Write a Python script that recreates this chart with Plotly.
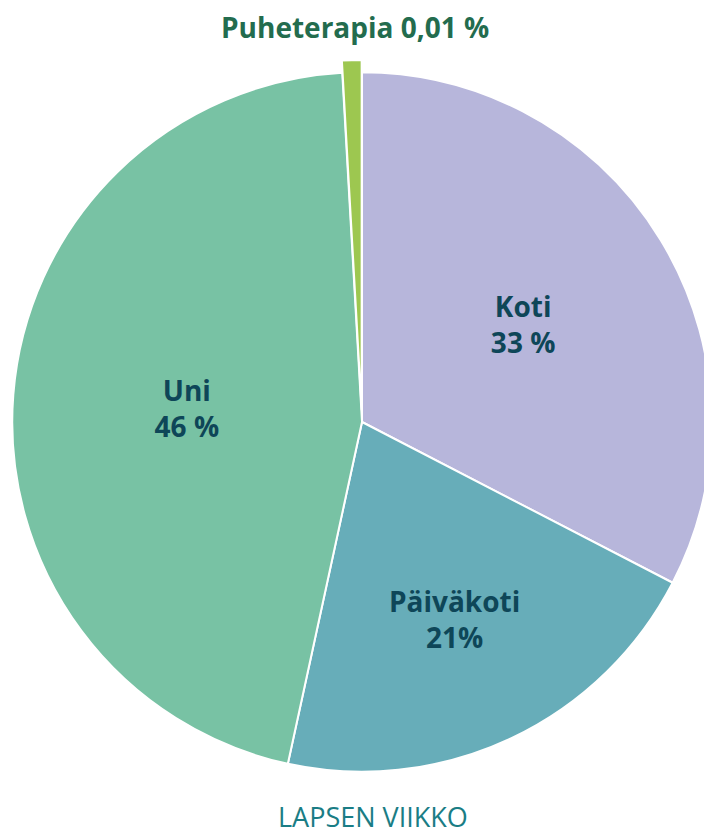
import plotly.graph_objects as go

categories = ["Koti", "Päiväkoti", "Uni", "Puheterapia"]
values = [32.6, 20.8, 45.7, 0.9]
label_texts = ["Koti<br>33 %", "Päiväkoti<br>21%", "Uni<br>46 %", "Puheterapia 0,01 %"]
colors = ["#b7b6db", "#67adb9", "#78c2a4", "#9dc750"]
title_text = "LAPSEN VIIKKO"

W, H = 724, 837

fig = go.Figure(go.Pie(
    labels=categories,
    values=values,
    text=label_texts[:3] + [""],
    textinfo="text",
    sort=False,
    direction="clockwise",
    rotation=0,
    pull=[0, 0, 0, 0.035],
    marker=dict(colors=colors, line=dict(color="white", width=2)),
    textposition=["inside", "inside", "inside", "none"],
    insidetextorientation="horizontal",
    insidetextfont=dict(family="Open Sans", size=28, color="#0e4658", weight="bold"),
    hoverinfo="label+percent",
    showlegend=False,
    domain=dict(x=[0, 1], y=[53 / H, 777 / H]),
))

# label of the tiny pulled slice, above the pie
fig.add_annotation(
    text=label_texts[3], x=355 / W, y=1 - 27 / H, xref="paper", yref="paper",
    xanchor="center", yanchor="middle", showarrow=False,
    font=dict(family="Open Sans", size=28, color="#236c4e", weight="bold"),
)

fig.add_annotation(
    text=title_text, x=373 / W, y=0, xref="paper", yref="paper",
    xanchor="center", yanchor="bottom", showarrow=False,
    font=dict(family="Open Sans", size=27, color="#1a7d85"),
)

fig.update_layout(
    width=W, height=H,
    margin=dict(l=0, r=0, t=0, b=0),
    paper_bgcolor="white",
    plot_bgcolor="white",
)

fig.write_html("out.html", config={"displayModeBar": False},
               post_script="document.body.style.margin='0';")
